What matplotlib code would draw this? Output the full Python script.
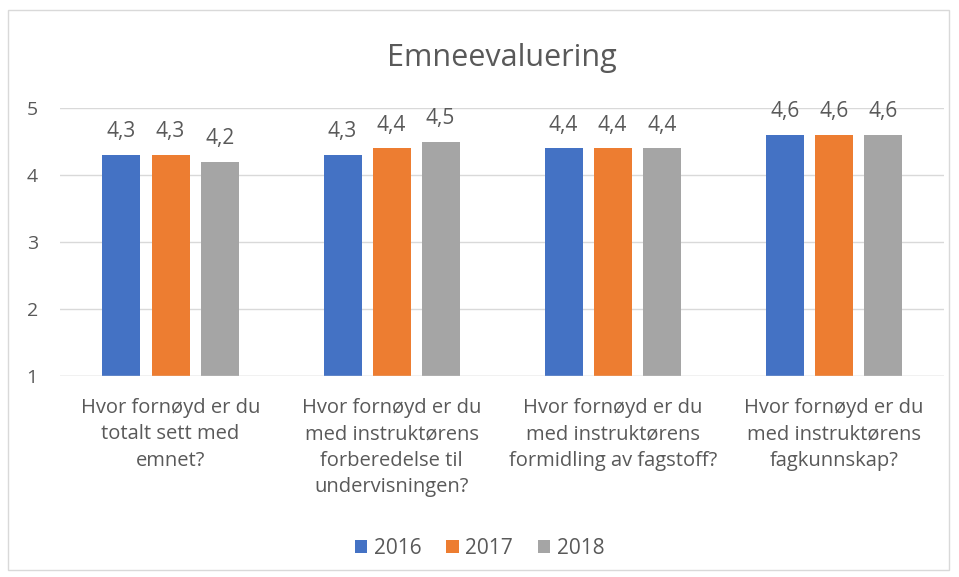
import matplotlib.pyplot as plt
import numpy as np
from matplotlib.patches import Rectangle

plt.rcParams['font.family'] = ['Open Sans', 'DejaVu Sans']

categories = ["Hvor fornøyd er du\ntotalt sett med\nemnet?",
              "Hvor fornøyd er du\nmed instruktørens\nforberedelse til\nundervisningen?",
              "Hvor fornøyd er du\nmed instruktørens\nformidling av fagstoff?",
              "Hvor fornøyd er du\nmed instruktørens\nfagkunnskap?"]
years = ["2016", "2017", "2018"]
v2016 = [4.3, 4.3, 4.4, 4.6]
v2017 = [4.3, 4.4, 4.4, 4.6]
v2018 = [4.2, 4.5, 4.4, 4.6]
colors = ["#4472C4", "#ED7D31", "#A5A5A5"]
grey = "#595959"

fig = plt.figure(figsize=(9.59, 5.77), dpi=100)
fig.patches.append(Rectangle((8 / 959, 1 - 570 / 577), 941 / 959, 560 / 577,
                             transform=fig.transFigure, fill=False,
                             edgecolor="#D9D9D9", linewidth=1))
ax = fig.add_axes([0.0626, 0.3484, 0.922, 0.4644])

x = np.arange(len(categories))
width = 0.172
step = 0.222
for i, (vals, yr) in enumerate(zip([v2016, v2017, v2018], years)):
    bars = ax.bar(x + (i - 1) * step, vals, width, bottom=0, color=colors[i],
                  label=yr, zorder=3)
    for b, v in zip(bars, vals):
        ax.annotate(f"{v:.1f}".replace(".", ","),
                    (b.get_x() + b.get_width() / 2, v),
                    xytext=(0, 9), textcoords="offset points",
                    ha="center", va="bottom", fontsize=15, color=grey)

ax.set_ylim(1, 5)
ax.set_xlim(-0.5, 3.5)
ax.set_yticks([1, 2, 3, 4, 5])
ax.grid(axis="y", color="#D9D9D9", linewidth=1, zorder=0)
ax.axhline(1, color="#D9D9D9", linewidth=1, zorder=4)
for s in ax.spines.values():
    s.set_visible(False)
ax.tick_params(length=0, colors=grey, labelsize=14)
ax.tick_params(axis="y", pad=16)
ax.tick_params(axis="x", pad=16)
ax.set_xticks(x)
ax.set_xticklabels(categories, fontsize=14.5, color=grey, linespacing=1.42)

ax.set_title("Emneevaluering", fontsize=22, color=grey, pad=30)
ax.legend(loc="center", bbox_to_anchor=(0.5, 1 - 548 / 577), bbox_transform=fig.transFigure,
          ncol=3, frameon=False, fontsize=15, labelcolor=grey,
          handlelength=0.6, handleheight=0.6, handletextpad=0.3, columnspacing=1.2)

fig.savefig("out.png", dpi=100)
